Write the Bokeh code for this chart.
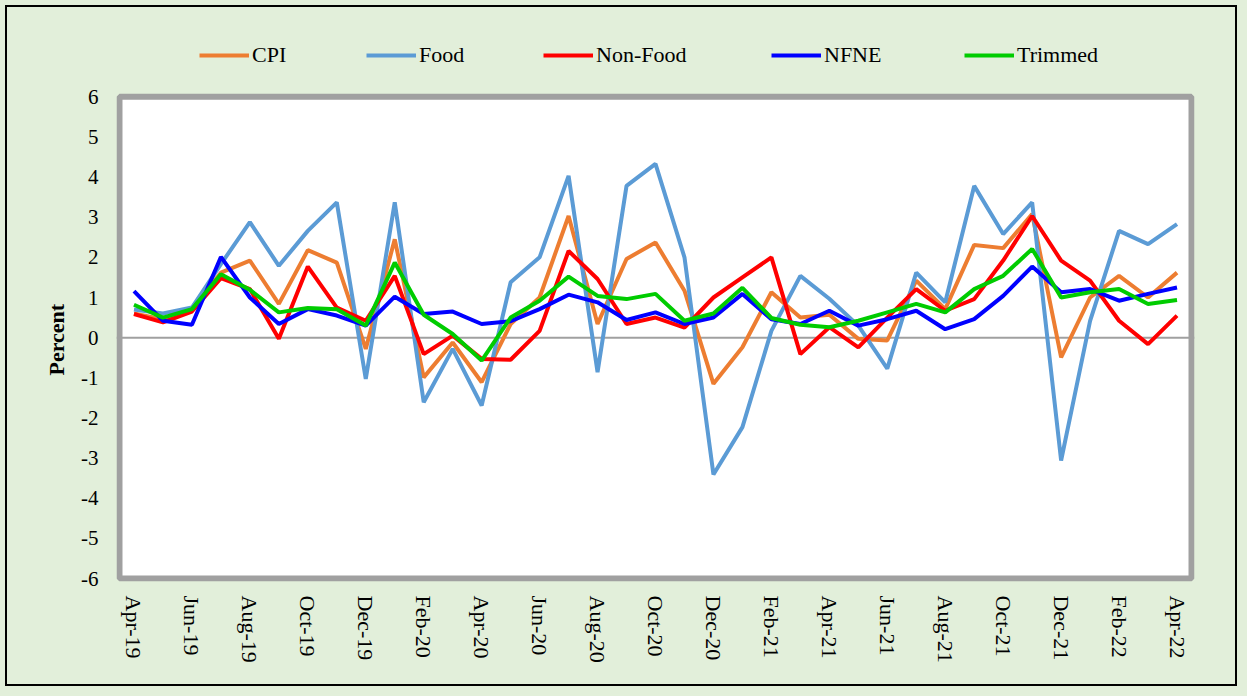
from bokeh.plotting import figure
from bokeh.models import Range1d, FixedTicker, Span, Legend, LegendItem, BoxAnnotation, Title
from bokeh.embed import file_html
from bokeh.resources import INLINE

months = ["Apr-19", "May-19", "Jun-19", "Jul-19", "Aug-19", "Sep-19", "Oct-19", "Nov-19", "Dec-19",
          "Jan-20", "Feb-20", "Mar-20", "Apr-20", "May-20", "Jun-20", "Jul-20", "Aug-20", "Sep-20",
          "Oct-20", "Nov-20", "Dec-20", "Jan-21", "Feb-21", "Mar-21", "Apr-21", "May-21", "Jun-21",
          "Jul-21", "Aug-21", "Sep-21", "Oct-21", "Nov-21", "Dec-21", "Jan-22", "Feb-22", "Mar-22",
          "Apr-22"]

cpi = [0.60, 0.45, 0.70, 1.62, 1.92, 0.84, 2.18, 1.87, -0.28, 2.45, -0.99, -0.12, -1.11, 0.34, 1.00,
       3.03, 0.34, 1.96, 2.37, 1.17, -1.15, -0.24, 1.13, 0.50, 0.57, -0.03, -0.07, 1.42, 0.71, 2.31,
       2.23, 3.08, -0.49, 1.00, 1.54, 1.00, 1.62]
food = [0.70, 0.60, 0.75, 1.83, 2.88, 1.79, 2.66, 3.37, -1.03, 3.37, -1.61, -0.28, -1.69, 1.38, 2.00,
        4.03, -0.86, 3.78, 4.33, 2.00, -3.41, -2.23, 0.17, 1.54, 0.97, 0.30, -0.77, 1.62, 0.88, 3.78,
        2.58, 3.37, -3.06, 0.42, 2.66, 2.33, 2.83]
nonfood = [0.59, 0.38, 0.65, 1.48, 1.21, -0.03, 1.77, 0.75, 0.42, 1.54, -0.41, 0.05, -0.53, -0.55, 0.17,
           2.16, 1.46, 0.34, 0.50, 0.25, 1.00, 1.50, 2.00, -0.41, 0.26, -0.24, 0.50, 1.21, 0.67, 0.96,
           1.92, 3.03, 1.92, 1.42, 0.42, -0.16, 0.55]
nfne = [1.16, 0.42, 0.32, 2.01, 1.00, 0.34, 0.71, 0.55, 0.30, 1.02, 0.59, 0.65, 0.34, 0.41, 0.71,
        1.07, 0.88, 0.44, 0.63, 0.34, 0.50, 1.09, 0.46, 0.34, 0.67, 0.30, 0.46, 0.67, 0.21, 0.46,
        1.04, 1.77, 1.13, 1.21, 0.92, 1.09, 1.25]
trimmed = [0.82, 0.50, 0.71, 1.58, 1.19, 0.63, 0.74, 0.71, 0.30, 1.87, 0.57, 0.09, -0.57, 0.50, 0.92,
           1.52, 1.04, 0.96, 1.09, 0.42, 0.60, 1.24, 0.49, 0.32, 0.26, 0.42, 0.63, 0.84, 0.63, 1.21,
           1.54, 2.21, 1.00, 1.13, 1.21, 0.84, 0.94]

series_names = ["CPI", "Food", "Non-Food", "NFNE", "Trimmed"]
series_values = [cpi, food, nonfood, nfne, trimmed]
series_colors = ["#ED7D31", "#5B9BD5", "#FF0000", "#0000FF", "#00CC00"]
y_ticks = list(range(-6, 7))

FONT = "Liberation Serif"
BG = "#E2EFDA"

xs = list(range(len(months)))
n = len(months)

# frame is extended a little beyond the white plot box, and upward to hold the legend
p = figure(width=1226, height=675, output_backend="svg", toolbar_location=None,
           x_range=Range1d(-0.6035, n - 1 + 0.6035), y_range=Range1d(-6.0747, 8),
           min_border_left=108, min_border_right=40, min_border_top=8, min_border_bottom=102)
p.styles = {"outline": "2px solid black", "outline-offset": "1px"}
p.background_fill_color = BG
p.border_fill_color = BG
p.outline_line_color = None
p.xgrid.visible = False
p.ygrid.visible = False

# white plot area with grey border
p.add_layout(BoxAnnotation(left=-0.5, right=n - 0.5, bottom=-6, top=6, fill_color="white",
                           fill_alpha=1, line_color="#A0A0A0", line_width=6, line_alpha=1,
                           level="underlay"))
p.add_layout(Span(location=0, dimension="width", line_color="#A0A0A0", line_width=2,
                  level="underlay"))

renderers = []
for name, vals, col in zip(series_names, series_values, series_colors):
    r = p.line(xs, vals, line_color=col, line_width=4)
    renderers.append(r)

# x axis
p.xaxis.ticker = FixedTicker(ticks=xs[::2])
p.xaxis.major_label_overrides = {i: months[i] for i in xs}
p.xaxis.major_label_orientation = "vertical"
p.xaxis.axis_line_color = None
p.xaxis.major_tick_line_color = None
p.xaxis.minor_tick_line_color = None
p.xaxis.major_tick_out = 0
p.xaxis.major_tick_in = 0
p.xaxis.major_label_standoff = 14
p.xaxis.major_label_text_font = FONT
p.xaxis.major_label_text_font_size = "22px"
p.xaxis.major_label_text_color = "black"

# y axis
p.yaxis.ticker = FixedTicker(ticks=y_ticks)
p.yaxis.major_label_overrides = {t: str(t) for t in y_ticks}
p.yaxis.axis_line_color = None
p.yaxis.major_tick_line_color = None
p.yaxis.minor_tick_line_color = None
p.yaxis.major_tick_out = 0
p.yaxis.major_tick_in = 0
p.yaxis.major_label_standoff = 18
p.yaxis.major_label_text_font = FONT
p.yaxis.major_label_text_font_size = "21px"
p.yaxis.major_label_text_color = "black"

# y axis title, centred on the white plot box
p.add_layout(Title(text="Percent", align="left", offset=206, standoff=20, vertical_align="bottom",
                   text_font=FONT, text_font_style="bold", text_font_size="22px",
                   text_color="black"), "left")

# legend entries above the plot box
legend_x = [83, 250, 427, 655, 848]
for name, r, lx in zip(series_names, renderers, legend_x):
    leg = Legend(items=[LegendItem(label=name, renderers=[r])], location=(lx, 513),
                 orientation="horizontal", glyph_width=50, glyph_height=26, label_height=26,
                 label_standoff=3, padding=0, margin=0, border_line_color=None,
                 background_fill_alpha=0, label_text_font=FONT, label_text_font_size="22px",
                 label_text_font_style="normal", label_text_color="black")
    p.add_layout(leg, "center")

html = file_html(p, INLINE)
html = html.replace("</head>",
                    "<style>html,body{background:%s !important;} body{padding:8px !important;}</style></head>" % BG, 1)
open("out.html", "w").write(html)
